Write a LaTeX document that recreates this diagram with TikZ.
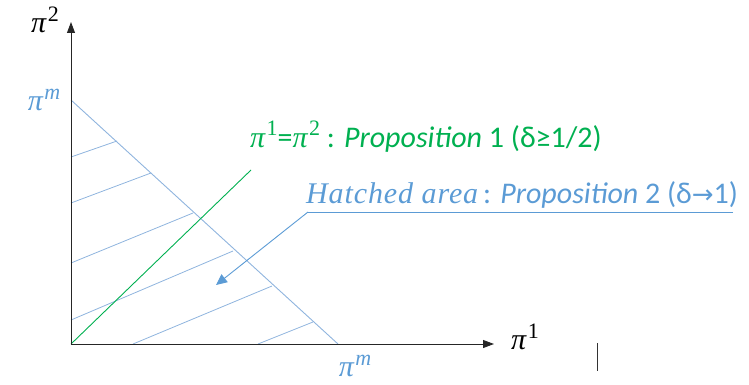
\documentclass[tikz,border=0pt]{standalone}
\usepackage{fontspec}
\setmainfont{Carlito}
\newfontfamily\dvfont{DejaVu Sans}
\newfontfamily\serf{Liberation Serif}
\usetikzlibrary{arrows.meta}
\definecolor{pgreen}{HTML}{00B050}
\definecolor{pblue}{HTML}{5B9BD5}
\definecolor{hblue}{HTML}{8FB4DE}
\newcommand\pisup[1]{{\serf\itshape π}\kern1.5pt\raisebox{0.38em}{\fontsize{22}{22}\selectfont\serf #1}}
\begin{document}
\begin{tikzpicture}[x=1pt,y=-1pt,
  axis/.style={draw=black!85,line width=0.9pt,-{Triangle[length=11pt,width=8pt]}},
  hatch/.style={draw=hblue,line width=0.8pt},
  bound/.style={draw=hblue,line width=0.9pt},
  lbl/.style={inner sep=0pt,font=\fontsize{30}{34}\selectfont},
  pil/.style={inner sep=0pt,font=\fontsize{30}{34}\selectfont},
  callout/.style={draw=pblue,line width=0.9pt}]
\useasboundingbox (0,0) rectangle (749,385);
% key points
\coordinate (O) at (71,344);
\coordinate (Ytip) at (71,22);
\coordinate (Xtip) at (494,344);
\coordinate (PmY) at (71,100);
\coordinate (PmX) at (338,344);
\coordinate (G) at (251,170);
\coordinate (U1) at (308,212);
\coordinate (U2) at (733,212);
\coordinate (A) at (216,285);
% hatch lines
\draw[hatch] (71,157) -- (117,141);
\draw[hatch] (71,203) -- (151,173);
\draw[hatch] (71,263) -- (193,213);
\draw[hatch] (71,320) -- (233,251);
\draw[hatch] (133,344) -- (272,286);
\draw[hatch] (258,344) -- (313,322);
% boundary
\draw[bound] (PmY) -- (PmX);
% diagonal
\draw[draw=pgreen,line width=0.9pt] (O) -- (G);
% axes
\draw[axis] (O) -- (Ytip);
\draw[axis] (O) -- (Xtip);
% callout
\draw[callout] (U2) -- (U1);
\draw[callout,-{Triangle[length=11pt,width=10pt]}] (U1) -- (A);
% stray mark
\draw[draw=black!80,line width=0.8pt] (597,343) -- (597,371);
% labels
\node[pil] (ly) at (45,20) {\pisup{2}};
\node[pil,text=pblue] (lpmy) at (44,100) {\pisup{\itshape m}};
\node[pil] (lx) at (525,337) {\pisup{1}};
\node[pil,text=pblue] (lpmx) at (355,366) {\pisup{\itshape m}};
\node[lbl,text=pgreen,anchor=base west] (tg) at (250,147) {\pisup{1}=\pisup{2} : \textit{Proposition} 1 (δ≥1/2)};
\node[lbl,text=pblue,anchor=base west] (tb) at (306,203) {{\serf\itshape\addfontfeatures{LetterSpace=3}Hatched area}\,: \textit{Proposition} 2 (δ{\dvfont\fontsize{26}{30}\selectfont→}1)};
\end{tikzpicture}
\end{document}
